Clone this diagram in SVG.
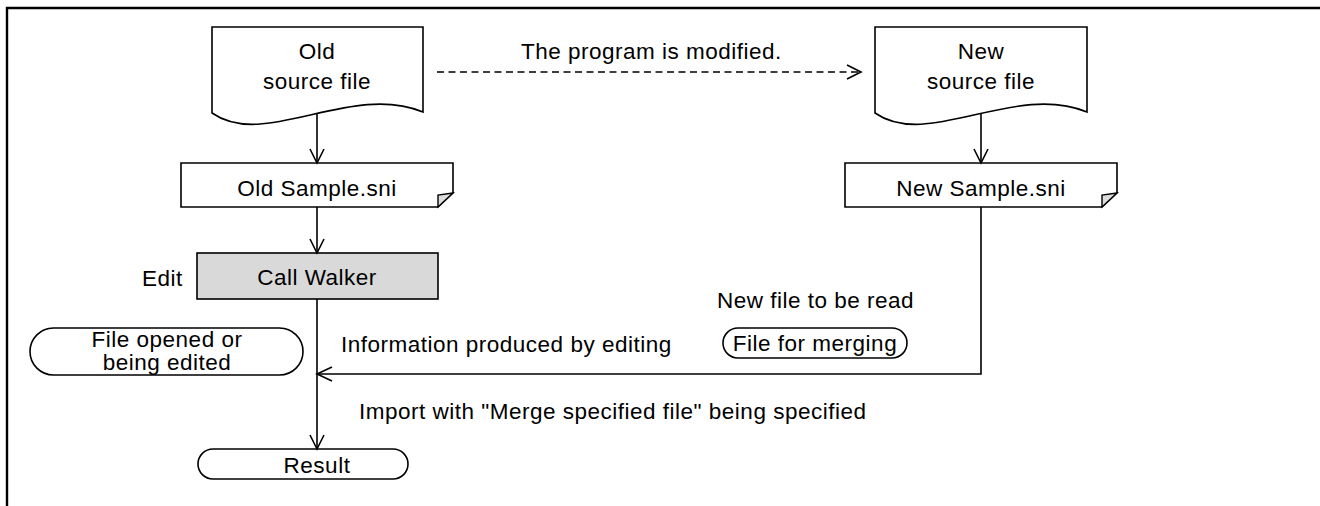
<svg xmlns="http://www.w3.org/2000/svg" width="1320" height="506" viewBox="0 0 1320 506">
<style>
  text { font-family: "Liberation Sans", Arial, sans-serif; font-size: 22.5px; letter-spacing: 0.5px; fill: #000; }
  .c { text-anchor: middle; }
  .shape { fill: #fff; stroke: #000; stroke-width: 1.6; }
  .proc { fill: #d9d9d9; stroke: #000; stroke-width: 1.6; }
  .fold { fill: #dcdcdc; stroke: #000; stroke-width: 1.4; }
  .line { fill: none; stroke: #000; stroke-width: 1.6; }
  .dash { fill: none; stroke: #000; stroke-width: 1.6; stroke-dasharray: 7 4.5; }
  .head { fill: none; stroke: #000; stroke-width: 1.6; }
</style>
<rect x="0" y="0" width="1320" height="506" fill="#fff"/>
<path d="M7,506 V8 H1320" fill="none" stroke="#000" stroke-width="2.4"/>

<g id="old-source">
  <path class="shape" d="M212,27 H423 V112 C350,82 265,150 212,113 Z"/>
  <text class="c" x="317" y="59">Old</text>
  <text class="c" x="317" y="89">source file</text>
</g>
<g id="new-source">
  <path class="shape" d="M875,27 H1087 V112 C1014,82 928,150 875,113 Z"/>
  <text class="c" x="981" y="59">New</text>
  <text class="c" x="981" y="89">source file</text>
</g>
<g id="old-sni">
  <path class="shape" d="M181,163 H453 V193 L438,207 H181 Z"/>
  <path class="fold" d="M453,193 L438,195 L438,207 Z"/>
  <text class="c" x="317" y="196">Old Sample.sni</text>
</g>
<g id="new-sni">
  <path class="shape" d="M845,163 H1117 V193 L1102,207 H845 Z"/>
  <path class="fold" d="M1117,193 L1102,195 L1102,207 Z"/>
  <text class="c" x="981" y="196">New Sample.sni</text>
</g>
<g id="call-walker">
  <rect class="proc" x="197" y="253" width="241" height="46"/>
  <text class="c" x="317" y="285">Call Walker</text>
</g>
<g id="edit-label">
  <text x="142" y="286">Edit</text>
</g>
<g id="file-opened">
  <rect class="shape" x="30" y="328" width="273" height="47" rx="23.5" ry="23.5"/>
  <text class="c" x="167" y="347" font-size="22">File opened or</text>
  <text class="c" x="167" y="370" font-size="22">being edited</text>
</g>
<g id="file-merging">
  <rect class="shape" x="723" y="328" width="184" height="30" rx="15" ry="15"/>
  <text class="c" x="815" y="351">File for merging</text>
</g>
<g id="new-file-label">
  <text x="717" y="308">New file to be read</text>
</g>
<g id="result">
  <rect class="shape" x="198" y="449" width="210" height="30" rx="15" ry="15"/>
  <text class="c" x="317" y="473">Result</text>
</g>

<g id="connectors">
  <path class="dash" d="M437,72 H860"/>
  <path class="head" d="M847,65 L861,72 L847,79"/>
  <text x="521" y="59">The program is modified.</text>

  <path class="line" d="M317,114 V162"/>
  <path class="head" d="M310,149 L317,163 L324,149"/>

  <path class="line" d="M981,113 V162"/>
  <path class="head" d="M974,149 L981,163 L988,149"/>

  <path class="line" d="M317,207 V252"/>
  <path class="head" d="M310,239 L317,253 L324,239"/>

  <path class="line" d="M317,299 V448"/>
  <path class="head" d="M310,435 L317,449 L324,435"/>

  <path class="line" d="M981,207 V374 H318"/>
  <path class="head" d="M332,367 L317,374 L332,381"/>

  <text x="341" y="352">Information produced by editing</text>
  <text x="359" y="419">Import with "Merge specified file" being specified</text>
</g>
</svg>
